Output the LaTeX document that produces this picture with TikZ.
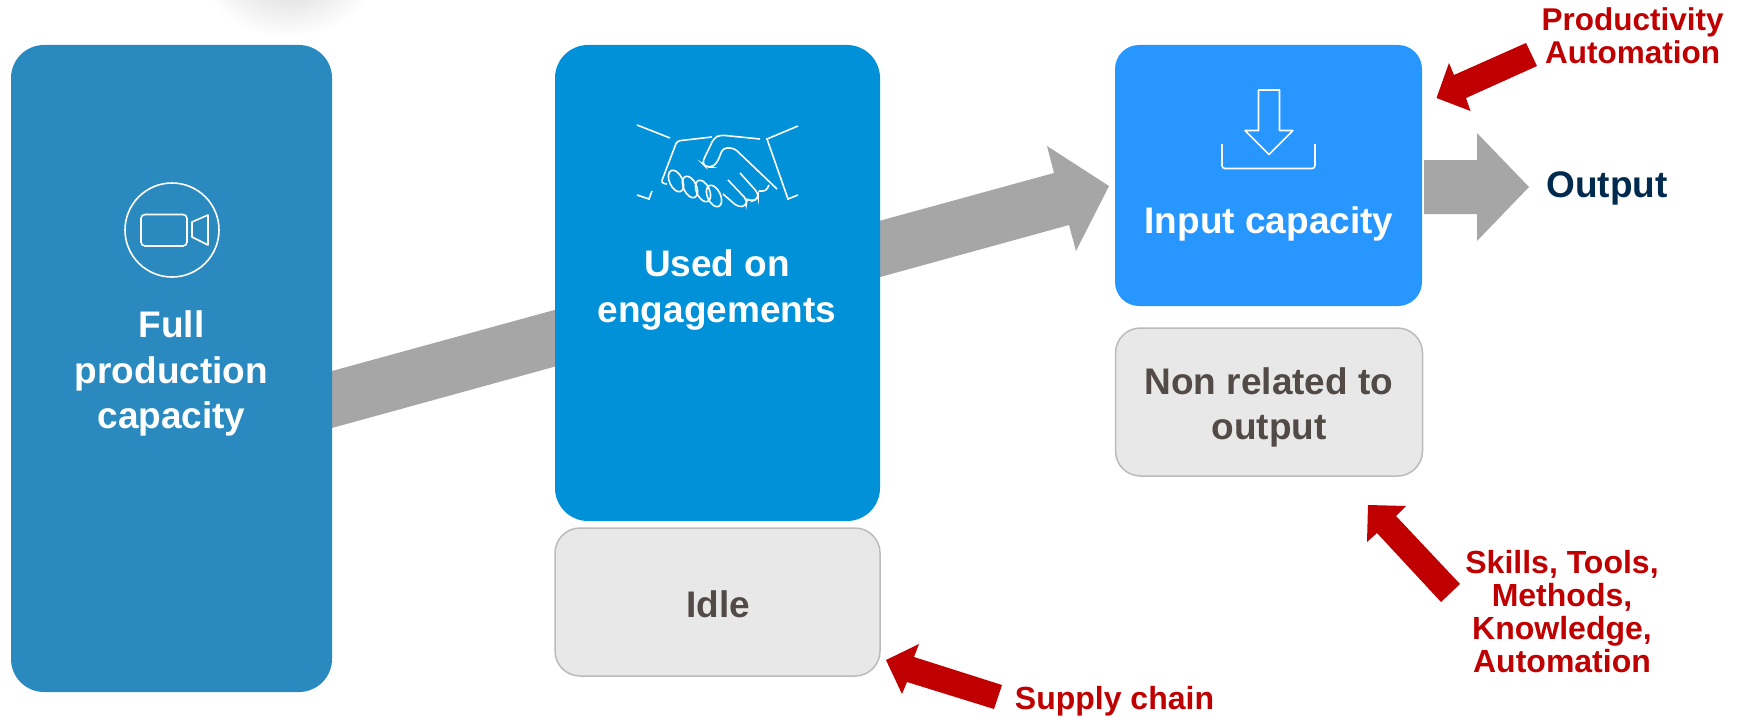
\documentclass[tikz,border=0pt]{standalone}
\usepackage{fontspec}
\setmainfont{Liberation Sans}
\definecolor{fullblue}{HTML}{2A8ABF}
\definecolor{usedblue}{HTML}{0091D9}
\definecolor{inputblue}{HTML}{2896FF}
\definecolor{arrowgray}{HTML}{A6A6A6}
\definecolor{boxgray}{HTML}{E8E8E8}
\definecolor{edgegray}{HTML}{BBBBBB}
\definecolor{idletext}{HTML}{524A46}
\definecolor{navytext}{HTML}{002A4E}
\definecolor{leverred}{HTML}{C00000}
\tikzset{
  bigbox/.style={rounded corners=33pt, minimum width=#1, inner sep=0pt},
  idlebox/.style={draw=edgegray, line width=1.5pt, fill=boxgray, rounded corners=25pt, text=idletext,
    font=\fontsize{37}{45}\selectfont\bfseries, align=center, inner sep=0pt},
  whitetext/.style={text=white, font=\fontsize{37}{45.5}\selectfont\bfseries, align=center},
  redtext/.style={text=leverred, font=\fontsize{32}{33}\selectfont\bfseries, align=center},
  iconline/.style={white, line width=1.6pt},
}
\begin{document}
\begin{tikzpicture}[x=1pt, y=-1pt]
      \useasboundingbox (0,0) rectangle (1741,717);

      % OMBRE HAUT
      \shade[inner color=black!16, outer color=white] (288,-25) ellipse (85 and 62);

      % FLECHE GRISE
      \fill[arrowgray] (332,371)--(1054,173)--(1047,146)--(1109,186)--(1076,251)--(1069,225)--(332,428)--cycle;

      % BOITES
      \node[bigbox=321pt, minimum height=647pt, fill=fullblue] (full) at (171.5,368.5) {};
      \node[bigbox=325pt, minimum height=476pt, fill=usedblue] (used) at (717.5,283) {};
      \node[bigbox=307pt, minimum height=261pt, fill=inputblue, rounded corners=24pt] (input) at (1268.5,175.5) {};
      \node[idlebox, minimum width=325pt, minimum height=148pt] (idle) at (717.5,602) {};
      \node[idlebox, minimum width=307pt, minimum height=148pt] (nonrelated) at (1269,402) {};

      % TEXTES
      \node[whitetext] (fulltext) at (171.5,373.5) {Full\\production\\capacity};
      \node[whitetext] (usedtext) at (717,290) {Used on\\engagements};
      \node[whitetext] (inputtext) at (1269,224) {Input capacity};
      \node[text=idletext, font=\fontsize{37}{45}\selectfont\bfseries, align=center] (nonrelatedtext) at (1269,407.5) {Non related to\\output};
      \node[text=idletext, font=\fontsize{37}{45}\selectfont\bfseries] (idletext) at (718,604) {Idle};
      \node[text=navytext, font=\fontsize{37}{45}\selectfont\bfseries] (output) at (1607,188.5) {Output};
      \node[redtext, font=\fontsize{31.5}{33}\selectfont\bfseries] (productivity) at (1632.5,36) {Productivity\\Automation};
      \node[redtext] (supply) at (1114.5,701) {Supply chain};
      \node[redtext] (skills) at (1562,612) {Skills, Tools,\\Methods,\\Knowledge,\\Automation};

      % FLECHE SORTIE
      \fill[arrowgray] (1424,160)--(1477,160)--(1477,133)--(1529,187)--(1477,241)--(1477,214)--(1424,214)--cycle;

      % FLECHES ROUGES
      \fill[leverred] (1526,43)--(1537,66)--(1466,98)--(1470.5,111)--(1436.5,98)--(1449,63)--(1454,75)--cycle;
      \fill[leverred] (1002,685)--(994,709)--(907,682)--(902,694)--(886,660)--(919,644)--(914,657)--cycle;
      \fill[leverred] (1460,584)--(1441,602)--(1377,533)--(1367,542)--(1368,505)--(1406,506)--(1396,516)--cycle;

      % CAMERA
      \draw[iconline] (172,230) circle (47);
      \draw[iconline, rounded corners=4pt] (141,214.5) rectangle (187,246);
      \draw[iconline, line join=round] (192,222)--(208,215)--(208,245)--(192,237)--cycle;

      % POIGNEE DE MAIN
      \draw[iconline] (637,125)--(670,138);
      \draw[iconline] (798,126)--(767,139)--(788,199)--(798,195);
      \draw[iconline] (637,195)--(649,199)--(652,191);
      \draw[iconline, rounded corners=3pt] (667,184)--(661,183)--(677,141)--(712,137);
      \draw[iconline, rounded corners=4pt] (760,139)--(720,135)--(714,138)--(702,163)--(706,167)--(712,167)--(717,163)--(723,148)--(734,148)--(777,189);
      \foreach \cx/\cy in {676/181, 690/187, 703/191, 714/196}
        \draw[iconline, rotate around={25:(\cx,\cy)}] (\cx,\cy) ellipse (6.5 and 11.5);
      \draw[iconline, rounded corners=4pt] (723,194)--(738,207)--(746,206)--(747,200)--(728,180);
      \draw[iconline, rounded corners=4pt] (745,199)--(752,201)--(758,199)--(758,193)--(740,173);
      \draw[iconline, rounded corners=3pt] (759,191)--(766,191)--(769,185);

      % TELECHARGEMENT
      \draw[iconline, line join=round] (1258.5,90)--(1279.5,90)--(1279.5,130.5)--(1293,130.5)--(1269,154.5)--(1245,130.5)--(1258.5,130.5)--cycle;
      \draw[iconline, rounded corners=3pt] (1222,144)--(1222,168.5)--(1315,168.5)--(1315,144);
\end{tikzpicture}
\end{document}
